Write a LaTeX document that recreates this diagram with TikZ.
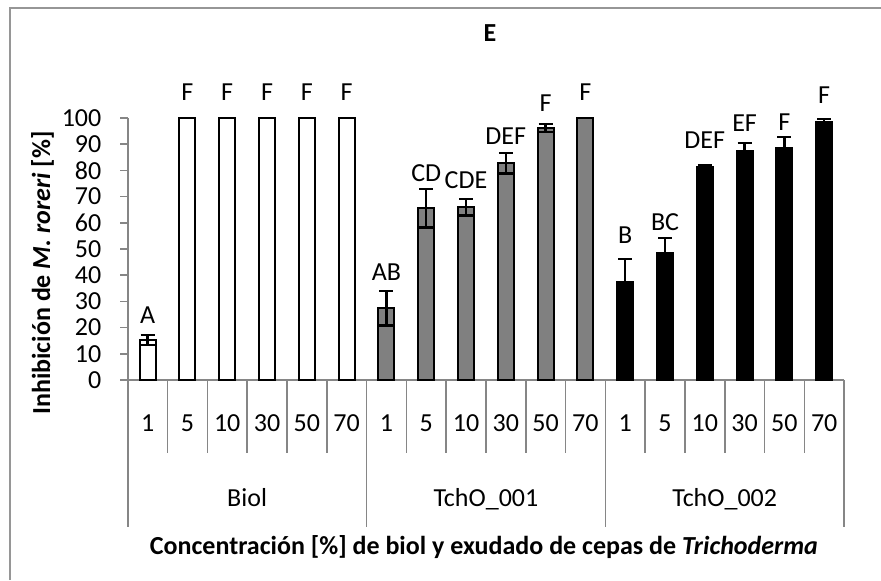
\documentclass[tikz,border=0pt]{standalone}
\usepackage{fontspec}
\setmainfont{Carlito}
\usetikzlibrary{arrows.meta}

\definecolor{axisgray}{RGB}{134,134,134}
\definecolor{bordergray}{RGB}{150,150,150}
\definecolor{bargray}{RGB}{128,128,128}

\begin{document}
\begin{tikzpicture}[x=19.9pt,y=1.31pt,font=\fontsize{13}{15}\selectfont,
        biolbar/.style={draw=black,fill=white,line width=1pt},
        tchabar/.style={draw=black,fill=bargray,line width=1pt},
        tchbbar/.style={draw=black,fill=black,line width=1pt},
        errbar/.style={{Bar[width=7pt]}-{Bar[width=7pt]},line width=1.2pt},
        axisline/.style={draw=axisgray,line width=0.8pt},
        grouplabel/.style={text depth=0pt},
        letter/.style={inner sep=0pt}]
        \useasboundingbox (-3.2085,-76.34) rectangle (18.927,145.04);

        % Outer frame (cut on the right and bottom)
        \draw[bordergray,line width=1pt] (-2.957,-76.34) -- (-2.957,142) -- (18.927,142);

        % Title
        \node[font=\fontsize{13}{15}\selectfont\bfseries] (title) at (9.1,132.4) {E};

        % Y axis with ticks
        \draw[axisline] (0,-56) -- (0,100);
        \foreach \v in {0,10,...,100} {
            \draw[axisline] (-0.193,\v) -- (0,\v);
            \node[anchor=east,inner sep=0pt] (ytick\v) at (-0.653,\v) {\v};
        }
        \node[rotate=90] (ytitle) at (-2.14,40.8) {\textbf{Inhibición de \textit{M. roreri} [\%]}};

        % X axis with category separators
        \draw[axisline] (0,0) -- (18,0);
        \foreach \c in {1,...,17}
            \draw[axisline] (\c,0) -- (\c,-27.9);
        \foreach \g in {6,12,18}
            \draw[axisline] (\g,0) -- (\g,-56);

        % Category labels
        \foreach \g in {0,6,12}
            \foreach \c [count=\k from 0] in {1,5,10,30,50,70}
                \node (cat\g-\c) at (\g+\k+0.5,-16.4) {\c};

        % Group labels and axis title
        \node[grouplabel] (biol) at (3,-44.7) {Biol};
        \node[grouplabel] (tcha) at (9,-44.7) {TchO\_001};
        \node[grouplabel] (tchb) at (15,-44.7) {TchO\_002};
        \node (xtitle) at (8.95,-63.7) {\textbf{Concentración [\%] de biol y exudado de cepas de \textit{Trichoderma}}};

        % Biol bars
        \draw[biolbar] (0.3,0) rectangle (0.7,15.3);
        \draw[biolbar] (1.3,0) rectangle (1.7,100);
        \draw[biolbar] (2.3,0) rectangle (2.7,100);
        \draw[biolbar] (3.3,0) rectangle (3.7,100);
        \draw[biolbar] (4.3,0) rectangle (4.7,100);
        \draw[biolbar] (5.3,0) rectangle (5.7,100);

        % TchO_001 bars
        \draw[tchabar] (6.3,0) rectangle (6.7,27.4);
        \draw[tchabar] (7.3,0) rectangle (7.7,65.5);
        \draw[tchabar] (8.3,0) rectangle (8.7,66);
        \draw[tchabar] (9.3,0) rectangle (9.7,82.8);
        \draw[tchabar] (10.3,0) rectangle (10.7,96.1);
        \draw[tchabar] (11.3,0) rectangle (11.7,100);

        % TchO_002 bars
        \draw[tchbbar] (12.3,0) rectangle (12.7,37.5);
        \draw[tchbbar] (13.3,0) rectangle (13.7,48.4);
        \draw[tchbbar] (14.3,0) rectangle (14.7,81.3);
        \draw[tchbbar] (15.3,0) rectangle (15.7,87.3);
        \draw[tchbbar] (16.3,0) rectangle (16.7,88.4);
        \draw[tchbbar] (17.3,0) rectangle (17.7,98.3);

        % Error bars
        \draw[errbar] (0.5,12.9) -- (0.5,17.7);
        \draw[errbar] (6.5,20.4) -- (6.5,34.4);
        \draw[errbar] (7.5,57.7) -- (7.5,73.3);
        \draw[errbar] (8.5,62.4) -- (8.5,69.6);
        \draw[errbar] (9.5,78.4) -- (9.5,87.2);
        \draw[errbar] (10.5,94.1) -- (10.5,98.1);
        \draw[errbar] (12.5,28.3) -- (12.5,46.7);
        \draw[errbar] (13.5,42.2) -- (13.5,54.6);
        \draw[errbar] (14.5,80.2) -- (14.5,82.4);
        \draw[errbar] (15.5,83.6) -- (15.5,91.0);
        \draw[errbar] (16.5,83.6) -- (16.5,93.2);
        \draw[errbar] (17.5,96.6) -- (17.5,100);

        % Letters of the groups
        \node[letter] (let1) at (0.5,24.8) {A};
        \node[letter] (let2) at (1.5,110) {F};
        \node[letter] (let3) at (2.5,110) {F};
        \node[letter] (let4) at (3.5,110) {F};
        \node[letter] (let5) at (4.5,110) {F};
        \node[letter] (let6) at (5.5,110) {F};
        \node[letter] (let7) at (6.5,41.3) {AB};
        \node[letter] (let8) at (7.5,79) {CD};
        \node[letter] (let9) at (8.5,76.3) {CDE};
        \node[letter] (let10) at (9.5,93.1) {DEF};
        \node[letter] (let11) at (10.5,105.8) {F};
        \node[letter] (let12) at (11.5,110) {F};
        \node[letter] (let13) at (12.5,55.3) {B};
        \node[letter] (let14) at (13.5,60.4) {BC};
        \node[letter] (let15) at (14.5,91.6) {DEF};
        \node[letter] (let16) at (15.5,98) {EF};
        \node[letter] (let17) at (16.5,98.6) {F};
        \node[letter] (let18) at (17.5,108.8) {F};
\end{tikzpicture}
\end{document}
